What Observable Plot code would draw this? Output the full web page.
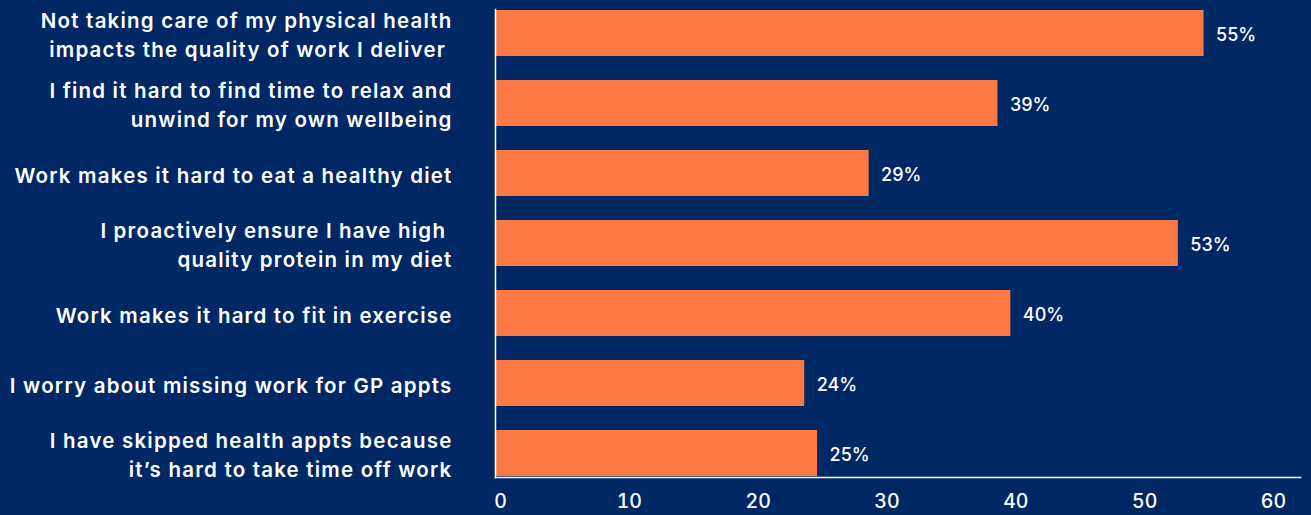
<!DOCTYPE html>
<html>
<head>
<meta charset="utf-8">
<script src="https://cdn.jsdelivr.net/npm/d3@7"></script>
<script src="https://cdn.jsdelivr.net/npm/@observablehq/plot@0.6"></script>
<style>
  html, body { margin: 0; padding: 0; background: #002864; }
  #chart svg { display: block; }
  #chart g[aria-label="y-axis tick label"] text { letter-spacing: 1.2px; }
</style>
</head>
<body>
<div id="chart"></div>
<script>
const categories = [
  "Not taking care of my physical health\nimpacts the quality of work I deliver ",
  "I find it hard to find time to relax and\nunwind for my own wellbeing",
  "Work makes it hard to eat a healthy diet",
  "I proactively ensure I have high \nquality protein in my diet",
  "Work makes it hard to fit in exercise",
  "I worry about missing work for GP appts",
  "I have skipped health appts because\nit\u2019s hard to take time off work"
];
const values = [55, 39, 29, 53, 40, 24, 25];
const xTicks = [0, 10, 20, 30, 40, 50, 60];

const data = categories.map((c, i) => ({category: c, value: values[i]}));

const bg = "#002864";
const orange = "#FF7944";
const fontFamily = "Inter, 'Open Sans', sans-serif";

const chart = Plot.plot({
  width: 1311,
  height: 515,
  marginTop: 9,
  marginBottom: 38,
  marginLeft: 495,
  marginRight: 11,
  style: {background: bg, color: "white", fontFamily, overflow: "visible"},
  x: {domain: [0, 60], range: [495, 1268], ticks: xTicks, label: null},
  y: {domain: categories, paddingInner: 0.34, paddingOuter: 0, label: null},
  marks: [
    Plot.barX(data, {x: "value", y: "category", fill: orange}),
    Plot.frame({anchor: "left", stroke: "white", strokeWidth: 1.5}),
    Plot.frame({anchor: "bottom", stroke: "white", strokeWidth: 1.5}),
    Plot.text(data, {
      x: "value", y: "category", text: d => d.value + "%",
      textAnchor: "start", dx: 12, dy: 2, fill: "white",
      fontSize: 18, fontWeight: 500, fontFamily
    }),
    Plot.axisY({
      tickSize: 0, tickPadding: 43, label: null, fontSize: 20.5,
      fontWeight: 600, lineHeight: 1.42, fill: "white", textAnchor: "end"
    }),
    Plot.axisX({
      ticks: xTicks, tickSize: 0, tickPadding: 17, label: null, fontSize: 19.5,
      fontWeight: 500, fill: "white", dx: 5, tickFormat: d => String(d)
    })
  ]
});
document.getElementById("chart").appendChild(chart);
chart.querySelectorAll("text").forEach(t => t.setAttribute("xml:space", "preserve"));
</script>
</body>
</html>
